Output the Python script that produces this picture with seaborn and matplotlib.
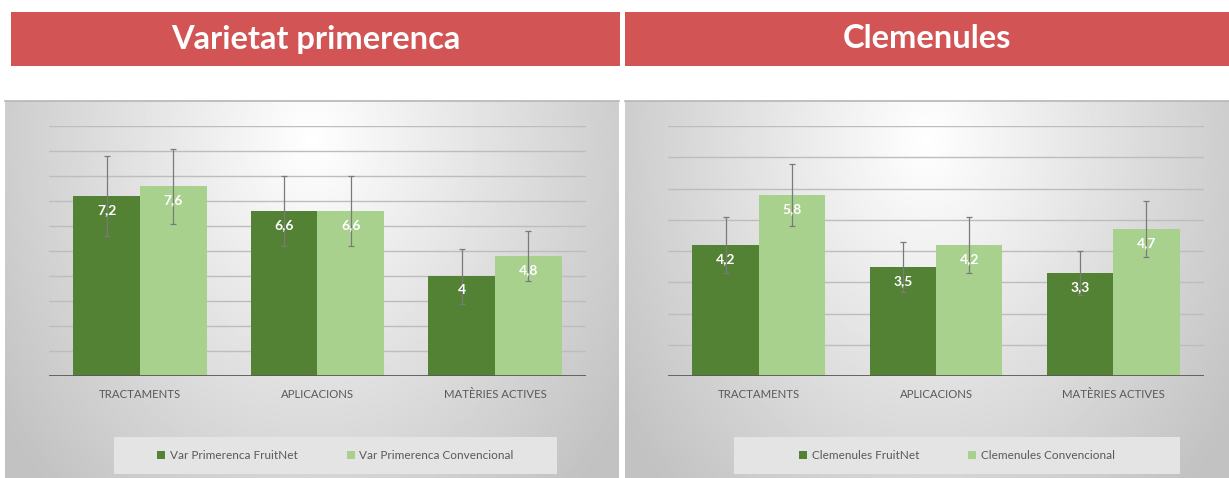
import numpy as np
import pandas as pd
import matplotlib.pyplot as plt
import seaborn as sns
from matplotlib.patches import Rectangle

# ---- data ----
categories = ["TRACTAMENTS", "APLICACIONS", "MATÈRIES ACTIVES"]

prim_title = "Varietat primerenca"
prim_series = ["Var Primerenca FruitNet", "Var Primerenca Convencional"]
prim_fruitnet = [7.2, 6.6, 4.0]
prim_conv = [7.6, 6.6, 4.8]
prim_fruitnet_err = [1.6, 1.4, 1.1]
prim_conv_err = [1.5, 1.4, 1.0]
prim_ymax = 10

clem_title = "Clemenules"
clem_series = ["Clemenules FruitNet", "Clemenules Convencional"]
clem_fruitnet = [4.2, 3.5, 3.3]
clem_conv = [5.8, 4.2, 4.7]
clem_fruitnet_err = [0.9, 0.8, 0.7]
clem_conv_err = [1.0, 0.9, 0.9]
clem_ymax = 8

DARK = "#548235"
LIGHT = "#A9D18E"
HEADER = "#D35454"
TXT = "#595959"

W, H = 1229, 478

sns.set_theme(style="white")
plt.rcParams['font.family'] = ['Lato', 'DejaVu Sans']


def px(x0, y0, x1, y1):
    # pixel box (top-left origin) -> figure fraction rect
    return [x0 / W, 1 - y1 / H, (x1 - x0) / W, (y1 - y0) / H]


fig = plt.figure(figsize=(W / 100, H / 100), dpi=100, facecolor="white")


def gradient_panel(box):
    ax = fig.add_axes(px(*box))
    yy, xx = np.mgrid[0:1:200j, 0:1:300j]
    r = np.sqrt(((xx - 0.5) / 0.62) ** 2 + ((yy - 0.1) / 1.3) ** 2)
    v = 1.0 - 0.24 * np.clip(r, 0, 1)
    ax.imshow(v, cmap="gray", vmin=0, vmax=1, extent=[0, 1, 0, 1],
              aspect="auto", origin="upper")
    ax.set_xticks([])
    ax.set_yticks([])
    for s in ["left", "right", "bottom"]:
        ax.spines[s].set_visible(False)
    ax.spines["top"].set_color("#b8b8b8")
    return ax


def chart(header_box, panel_box, plot_box, legend_box, title, series,
          fruitnet, conv, errs, ymax):
    # red header with title
    hx0, hy0, hx1, hy1 = header_box
    fig.add_artist(Rectangle((hx0 / W, 1 - hy1 / H), (hx1 - hx0) / W, (hy1 - hy0) / H,
                             transform=fig.transFigure, color=HEADER, lw=0))
    fig.text((hx0 + hx1) / 2 / W, 1 - (hy0 + hy1) / 2 / H, title, ha="center", va="center",
             color="white", fontsize=23.5, fontweight="bold")

    bg = gradient_panel(panel_box)
    lx0, ly0, lx1, ly1 = legend_box
    bg.add_patch(Rectangle((lx0 / W, 1 - ly1 / H), (lx1 - lx0) / W, (ly1 - ly0) / H,
                           transform=fig.transFigure, color="#e4e4e4", lw=0, clip_on=False))

    ax = fig.add_axes(px(*plot_box))
    ax.set_facecolor("none")
    df = pd.DataFrame({
        "cat": categories * 2,
        "serie": [series[0]] * 3 + [series[1]] * 3,
        "val": fruitnet + conv,
    })
    sns.barplot(data=df, x="cat", y="val", hue="serie", palette=[DARK, LIGHT],
                width=0.75, saturation=1, errorbar=None, linewidth=0, ax=ax, zorder=2)

    for cont, err, vals in zip(ax.containers, errs, [fruitnet, conv]):
        xs = [b.get_x() + b.get_width() / 2 for b in cont]
        hs = [b.get_height() for b in cont]
        ax.errorbar(xs, hs, yerr=err, fmt="none", ecolor="#7a7a7a",
                    elinewidth=0.9, capsize=2.5, capthick=0.9, zorder=3)
        for x, h, v in zip(xs, hs, vals):
            ax.annotate(f"{v:g}".replace(".", ","), (x, h), xytext=(0, -6),
                        textcoords="offset points", ha="center", va="top",
                        color="white", fontsize=10, fontweight="bold", zorder=4)

    ax.set_ylim(0, ymax)
    ax.set_yticks(range(0, ymax + 1))
    ax.set_yticklabels([])
    ax.yaxis.grid(True, color="#bdbdbd", lw=1)
    ax.set_axisbelow(True)
    ax.axhline(0, color=TXT, lw=2, zorder=5)
    for s in ax.spines.values():
        s.set_visible(False)
    ax.tick_params(axis="both", length=0)
    ax.tick_params(axis="x", pad=9, labelsize=8.2, labelcolor=TXT)
    ax.set_xlabel("")
    ax.set_ylabel("")

    sns.move_legend(ax, "center",
                    bbox_to_anchor=((lx0 + lx1) / 2 / W, 1 - (ly0 + ly1) / 2 / H),
                    bbox_transform=fig.transFigure, ncol=2, frameon=False, title=None,
                    fontsize=8.5, handlelength=0.65, handleheight=0.65,
                    handletextpad=0.4, columnspacing=4.2)
    for t in ax.get_legend().get_texts():
        t.set_color(TXT)


chart((11, 12, 620, 66), (5, 101, 619, 478), (49, 126, 586, 376), (114, 437, 557, 474),
      prim_title, prim_series, prim_fruitnet, prim_conv,
      [prim_fruitnet_err, prim_conv_err], prim_ymax)
chart((625, 12, 1229, 66), (625, 101, 1229, 478), (668, 126, 1204, 376), (734, 437, 1180, 474),
      clem_title, clem_series, clem_fruitnet, clem_conv,
      [clem_fruitnet_err, clem_conv_err], clem_ymax)

fig.savefig("out.png", dpi=100)
